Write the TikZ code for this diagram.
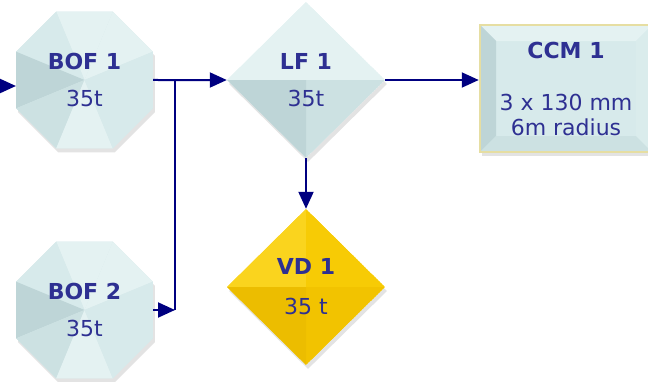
\documentclass[tikz,border=0pt]{standalone}
\usepackage{fontspec}
\setmainfont{DejaVu Sans}
\usetikzlibrary{shapes.geometric,arrows.meta,shadows}

\definecolor{navyline}{HTML}{000080}
\definecolor{labeltext}{HTML}{2E3092}
\definecolor{iceA}{HTML}{E4F2F2}
\definecolor{iceB}{HTML}{D7EAEB}
\definecolor{iceC}{HTML}{CCE1E2}
\definecolor{iceD}{HTML}{BED5D7}
\definecolor{goldA}{HTML}{FAD41E}
\definecolor{goldB}{HTML}{F7CB05}
\definecolor{goldC}{HTML}{F2C300}
\definecolor{goldD}{HTML}{ECBD00}
\definecolor{panelrim}{HTML}{E6DEA2}

\tikzset{
  every node/.style={align=center, text=labeltext, font=\fontsize{22}{25}\selectfont},
  shade/.style={drop shadow={opacity=0.22, shadow xshift=2pt, shadow yshift=-4pt}},
  furnace/.style={regular polygon, regular polygon sides=8, minimum size=148pt,
    inner sep=0pt, fill=iceB, shade,
    path picture={
      \foreach \a/\c in {22.5/iceA, 67.5/iceA, 112.5/iceB, 157.5/iceD,
                         202.5/iceC, 247.5/iceA, 292.5/iceB, 337.5/iceB}
        \fill[\c] (path picture bounding box.center) -- +(\a:80pt) -- +(\a+45:80pt) -- cycle;
    }},
  gem/.style n args={4}{diamond, minimum width=158pt, minimum height=156pt,
    inner sep=0pt, fill=#1, shade,
    path picture={
      \fill[#1] (path picture bounding box.center) -- (path picture bounding box.north) -- (path picture bounding box.west) -- cycle;
      \fill[#2] (path picture bounding box.center) -- (path picture bounding box.north) -- (path picture bounding box.east) -- cycle;
      \fill[#3] (path picture bounding box.center) -- (path picture bounding box.south) -- (path picture bounding box.east) -- cycle;
      \fill[#4] (path picture bounding box.center) -- (path picture bounding box.south) -- (path picture bounding box.west) -- cycle;
    }},
  panel/.style={rectangle, minimum width=172pt, minimum height=127pt,
    inner sep=0pt, fill=iceB, draw=panelrim, line width=2.5pt, shade,
    path picture={
      \fill[iceA] (path picture bounding box.north west) -- (path picture bounding box.north east)
        -- ([shift={(-16pt,-16pt)}]path picture bounding box.north east) -- ([shift={(16pt,-16pt)}]path picture bounding box.north west) -- cycle;
      \fill[iceD] (path picture bounding box.north west) -- (path picture bounding box.south west)
        -- ([shift={(16pt,16pt)}]path picture bounding box.south west) -- ([shift={(16pt,-16pt)}]path picture bounding box.north west) -- cycle;
      \fill[iceC] (path picture bounding box.south west) -- (path picture bounding box.south east)
        -- ([shift={(-16pt,16pt)}]path picture bounding box.south east) -- ([shift={(16pt,16pt)}]path picture bounding box.south west) -- cycle;
      \fill[iceB!80!iceA] (path picture bounding box.north east) -- (path picture bounding box.south east)
        -- ([shift={(-16pt,16pt)}]path picture bounding box.south east) -- ([shift={(-16pt,-16pt)}]path picture bounding box.north east) -- cycle;
    }},
  pipe/.style={draw=navyline, line width=2pt},
  flow/.style={pipe, -{Triangle[length=17pt,width=15pt]}},
}

\begin{document}
\begin{tikzpicture}[x=1pt,y=-1pt]
  \useasboundingbox (0,0) rectangle (648,381);

  \node[furnace] (bof1) at (84.5,80) {\textbf{BOF 1}\\[12pt]35t};
  \node[furnace] (bof2) at (84.5,310) {\textbf{BOF 2}\\[12pt]35t};
  \node[gem={iceA}{iceA}{iceC}{iceD}] (lf1) at (306,80) {\textbf{LF 1}\\[12pt]35t};
  \node[gem={goldA}{goldB}{goldC}{goldD}] (vd1) at (306,287) {\textbf{VD 1}\\[15pt]35 t};
  \node[panel] (ccm1) at (566,88.5) {\textbf{CCM 1}\\[27pt]3 x 130 mm\\6m radius};

  \coordinate (feed) at (0,86);
  \coordinate (bus) at (175,0);

  \draw[flow] (feed) -- (feed -| bof1.west);
  \draw[flow] (bof1.east) -- (lf1.west);
  \draw[flow] (bof2.east) -- (bof2.east -| bus);
  \draw[pipe] (bof2.east -| bus) -- (bof1.east -| bus);
  \draw[flow] (lf1.south) -- (vd1.north);
  \draw[flow] (lf1.east) -- (lf1.east -| ccm1.west);
\end{tikzpicture}
\end{document}
